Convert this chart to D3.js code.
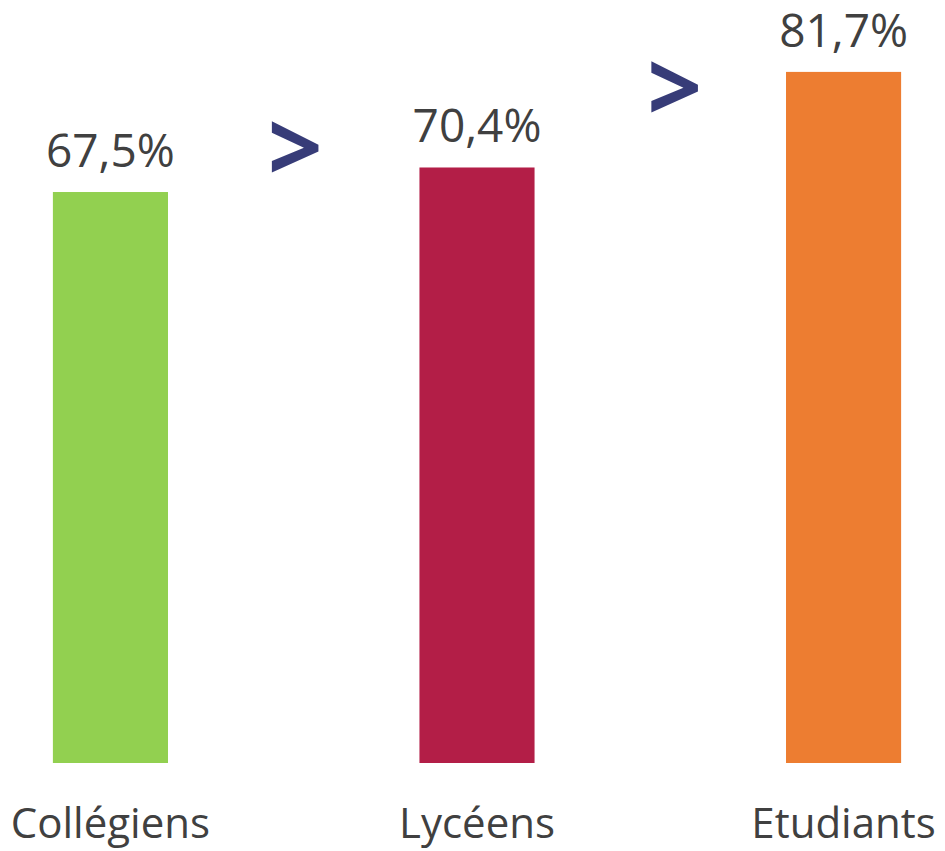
<!DOCTYPE html>
<html><head><meta charset="utf-8">
<script src="https://cdn.jsdelivr.net/npm/d3@7"></script>
<style>html,body{margin:0;padding:0;background:#fff;}</style>
</head><body>
<svg id="c" width="945" height="851"></svg>
<script>
const categories = ["Collégiens", "Lycéens", "Etudiants"];
const values = [67.5, 70.4, 81.7];
const valueLabels = ["67,5%", "70,4%", "81,7%"];
const colors = ["#92D050", "#B31E47", "#ED7D31"];

const svg = d3.select("#c");
const x = d3.scaleBand().domain(categories).range([4.5, 949.5]).paddingInner(0.686).paddingOuter(0.132);
const y = d3.scaleLinear().domain([0, 100]).range([763, 763 - 845.9]);

svg.selectAll("rect.bar").data(values).enter().append("rect")
  .attr("x", (d, i) => x(categories[i]))
  .attr("width", x.bandwidth())
  .attr("y", d => y(d))
  .attr("height", d => y(0) - y(d))
  .attr("fill", (d, i) => colors[i]);

svg.selectAll("text.val").data(values).enter().append("text")
  .attr("x", (d, i) => x(categories[i]) + x.bandwidth() / 2)
  .attr("y", d => y(d) - 25)
  .attr("text-anchor", "middle")
  .attr("font-family", "Open Sans")
  .attr("font-size", 46)
  .attr("fill", "#404040")
  .text((d, i) => valueLabels[i]);

svg.selectAll("text.cat").data(categories).enter().append("text")
  .attr("x", d => x(d) + x.bandwidth() / 2)
  .attr("y", 838)
  .attr("text-anchor", "middle")
  .attr("font-family", "Open Sans")
  .attr("font-size", 42)
  .attr("fill", "#404040")
  .text(d => d);

// comparison chevrons between bars
const gaps = [0, 1];
const xOff = [1.5, 14.5];
svg.selectAll("text.gt").data(gaps).enter().append("text")
  .attr("x", i => (x(categories[i]) + x.bandwidth() + x(categories[i + 1])) / 2 + xOff[i])
  .attr("y", i => (y(values[i]) + y(values[i + 1])) / 2 - 28)
  .attr("dy", "0.32em")
  .attr("text-anchor", "middle")
  .attr("font-family", "Open Sans")
  .attr("font-weight", "bold")
  .attr("font-size", 96)
  .attr("fill", "#373C78")
  .text(">");
</script>
</body></html>
